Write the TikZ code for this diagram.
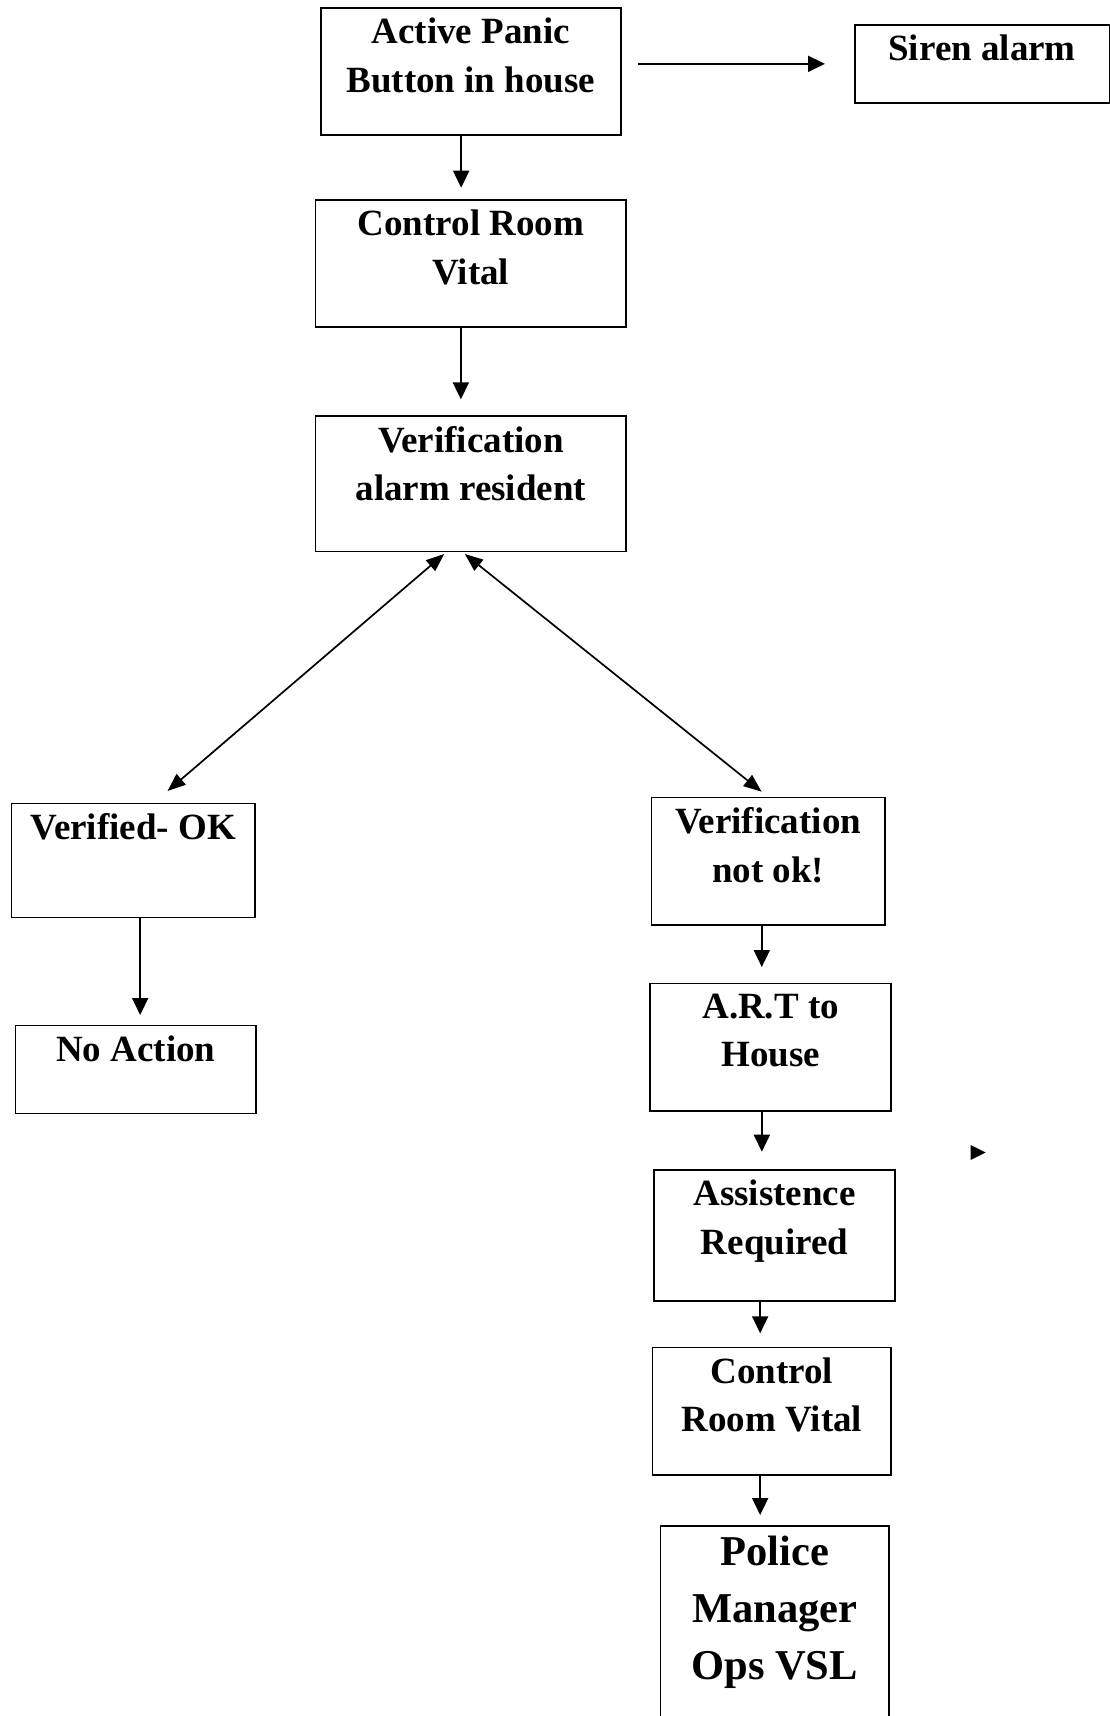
\documentclass[tikz,border=0pt]{standalone}
\usepackage{fontspec}
\setmainfont{Liberation Serif}
\usetikzlibrary{arrows.meta,calc}
\begin{document}
\begin{tikzpicture}[x=1pt,y=-1pt,
 box/.style={draw, line width=1.7pt, inner sep=0pt, anchor=north west},
 txt/.style={anchor=north, inner sep=0pt, align=center, font=\bfseries\fontsize{37}{48.3}\selectfont},
 bigtxt/.style={txt, font=\bfseries\fontsize{42.5}{56.7}\selectfont},
 arr/.style={line width=1.9pt, -{Triangle[length=17pt,width=16pt]}},
 darr/.style={line width=1.7pt, {Triangle[length=18pt,width=14pt]}-{Triangle[length=18pt,width=14pt]}}]
\useasboundingbox (0,0) rectangle (1110,1716);
\clip (0,0) rectangle (1110,1716);
% boxes
\node[box, minimum width=300pt, minimum height=127.3pt] (b1) at (320,7) {};
\node[box, minimum width=254.5pt, minimum height=78pt] (siren) at (854,24) {};
\node[box, minimum width=310.6pt, minimum height=127pt] (b2) at (314.7,199) {};
\node[box, minimum width=310.6pt, minimum height=135.7pt] (b3) at (314.7,415) {};
\node[box, minimum width=243.6pt, minimum height=114pt] (vok) at (10.7,802.7) {};
\node[box, minimum width=240.6pt, minimum height=88pt] (noact) at (14.7,1024.7) {};
\node[box, minimum width=233.3pt, minimum height=127.3pt] (vnok) at (650.7,796.7) {};
\node[box, minimum width=241pt, minimum height=127.6pt] (art) at (649.3,982.7) {};
\node[box, minimum width=241pt, minimum height=131pt] (assist) at (653.3,1169) {};
\node[box, minimum width=238.6pt, minimum height=127.3pt] (crv) at (651.7,1346.7) {};
\node[box, minimum width=228.3pt, minimum height=220pt] (police) at (659.7,1525) {};
% texts
\node[txt] (t1) at ([yshift=-11pt]b1.north) {Active Panic\\Button in house};
\node[txt] (tsiren) at ([yshift=-11pt]siren.north) {Siren alarm};
\node[txt] (t2) at ([yshift=-11pt]b2.north) {Control Room\\Vital};
\node[txt] (t3) at ([yshift=-11pt]b3.north) {Verification\\alarm resident};
\node[txt] (tvok) at ([yshift=-11pt]vok.north) {Verified- OK};
\node[txt] (tnoact) at ([yshift=-11pt]noact.north) {No Action};
\node[txt] (tvnok) at ([yshift=-11pt]vnok.north) {Verification\\not ok!};
\node[txt] (tart) at ([yshift=-11pt]art.north) {A.R.T to\\House};
\node[txt] (tassist) at ([yshift=-11pt]assist.north) {Assistence\\Required};
\node[txt] (tcrv) at ([yshift=-11pt]crv.north) {Control\\Room Vital};
\node[bigtxt] (tpolice) at ([yshift=-11pt]police.north) {Police\\Manager\\Ops VSL};
% connectors
\draw[arr, shorten <=16pt, shorten >=29pt] (b1.east |- siren.west) -- (siren.west);
\draw[arr, shorten >=11.3pt] ([xshift=-9.7pt]b1.south) -- ([xshift=-9.7pt]b1.south |- b2.north);
\draw[arr, shorten >=15.7pt] ([xshift=-10pt]b2.south) -- ([xshift=-10pt]b2.south |- b3.north);
\draw[darr] ($(b3.south)+(-26.7,1.6)$) -- ($(vok.north)+(34.2,-11.7)$);
\draw[darr] ($(b3.south)+(-6,1.6)$) -- ($(vnok.north)+(-6.6,-5)$);
\draw[arr, shorten >=9.7pt] ([xshift=6.8pt]vok.south) -- ([xshift=6.8pt]vok.south |- noact.north);
\draw[arr, shorten >=15.7pt] ([xshift=-6.4pt]vnok.south) -- ([xshift=-6.4pt]vnok.south |- art.north);
\draw[arr, shorten >=17.3pt] ([xshift=-8.8pt]art.south) -- ([xshift=-8.8pt]art.south |- assist.north);
\draw[arr, shorten >=13.4pt] ([xshift=-14.5pt]assist.south) -- ([xshift=-14.5pt]assist.south |- crv.north);
\draw[arr, shorten >=10pt] ([xshift=-11.7pt]crv.south) -- ([xshift=-11.7pt]crv.south |- police.north);
% stray arrowhead
\fill (970.7,1145) -- (985.7,1152.5) -- (970.7,1160) -- cycle;
\end{tikzpicture}
\end{document}
